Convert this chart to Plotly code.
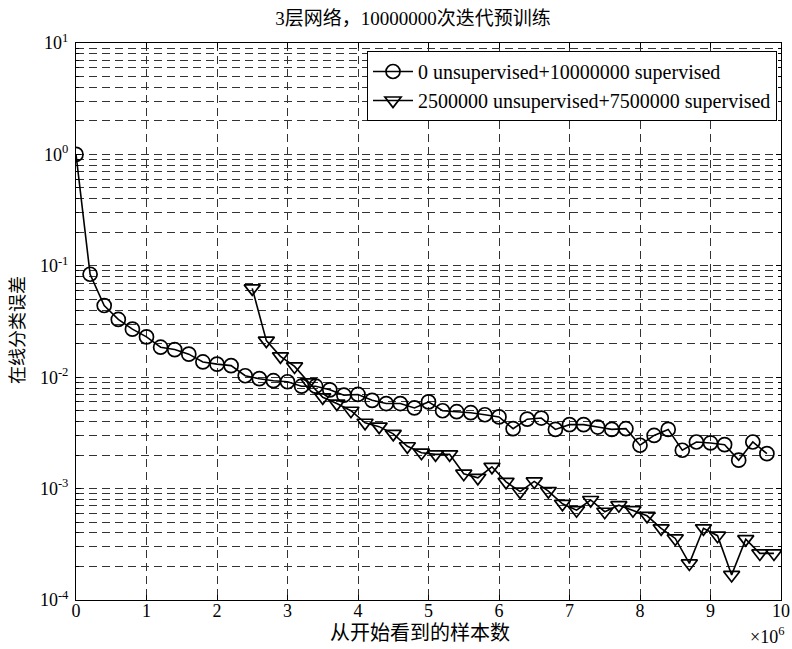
import plotly.graph_objects as go

# ---- data (x in units of 1e6 samples) ----
x_circle = [round(0.2 * i, 1) for i in range(50)]
y_circle = [1.0, 0.084, 0.044, 0.033, 0.027, 0.023, 0.0186, 0.0177, 0.0161, 0.0137,
            0.0131, 0.0127, 0.0103, 0.0097, 0.0093, 0.0091, 0.0083, 0.0083, 0.0077, 0.0069,
            0.0070, 0.0062, 0.0058, 0.0058, 0.0053, 0.0060, 0.0050, 0.0049, 0.0048, 0.0046,
            0.0044, 0.00345, 0.0042, 0.0043, 0.0034, 0.00375, 0.00375, 0.00357, 0.0034, 0.00345,
            0.00245, 0.0030, 0.0034, 0.00221, 0.00262, 0.00257, 0.00248, 0.0018, 0.00262, 0.00206]

x_tri = [round(2.5 + 0.2 * i, 1) for i in range(38)]
y_tri = [0.0627, 0.0213, 0.0154, 0.0125, 0.0090, 0.0066, 0.0058, 0.0050, 0.0039, 0.0036,
         0.0031, 0.0024, 0.0021, 0.00203, 0.00203, 0.00136, 0.00125, 0.00157, 0.00115, 0.00094,
         0.00116, 0.00095, 0.00073, 0.00064, 0.00079, 0.00062, 0.00071, 0.00064, 0.00057, 0.00044,
         0.000357, 0.000213, 0.00044, 0.000378, 0.000168, 0.000352, 0.000262, 0.000262]

series_names = ["0 unsupervised+10000000 supervised",
                "2500000 unsupervised+7500000 supervised"]

x_ticks = list(range(0, 11))
y_exps = [-4, -3, -2, -1, 0, 1]
y_tickvals = [10.0 ** e for e in y_exps]
y_ticktext = ["10<sup>%d</sup>" % e for e in y_exps]
y_minor = [m * 10.0 ** e for e in y_exps[:-1] for m in range(2, 10)]

title_text = "3层网络，10000000次迭代预训练"
xlabel = "从开始看到的样本数"
ylabel = "在线分类误差"
x_scale_text = "×10<sup>6</sup>"

serif = "Liberation Serif, Times New Roman, Noto Sans CJK SC, serif"
grid_dash = "8px,5px"
grid_col = "#333333"

W, H = 792, 649
ML, MR, MT, MB = 76, 11, 43, 49
pw, ph = W - ML - MR, H - MT - MB

fig = go.Figure()
fig.add_trace(go.Scatter(
    x=x_circle, y=y_circle, mode="lines+markers", name=series_names[0],
    line=dict(color="black", width=1.6),
    marker=dict(symbol="circle-open", size=14, color="black", line=dict(width=1.7, color="black"))))
fig.add_trace(go.Scatter(
    x=x_tri, y=y_tri, mode="lines+markers", name=series_names[1],
    line=dict(color="black", width=1.6),
    marker=dict(symbol="triangle-down-open", size=14, color="black", line=dict(width=1.7, color="black"))))

fig.update_layout(
    width=W, height=H,
    margin=dict(l=ML, r=MR, t=MT, b=MB),
    paper_bgcolor="white", plot_bgcolor="white",
    font=dict(family=serif, size=18, color="black"),
    title=dict(text=title_text, x=413 / W, xanchor="center", xref="container",
               y=1 - 18 / H, yanchor="middle", yref="container",
               font=dict(family=serif, size=19, color="black")),
    showlegend=True,
    legend=dict(x=1 - 4 / pw, xanchor="right", y=1 - 8 / ph, yanchor="top",
                bgcolor="white", bordercolor="black", borderwidth=1,
                font=dict(family=serif, size=20, color="black"),
                tracegroupgap=0, itemwidth=40),
)

fig.update_xaxes(
    range=[0, 10], tickvals=x_ticks, ticktext=[str(v) for v in x_ticks],
    showline=True, linecolor="black", linewidth=1, mirror="ticks",
    ticks="inside", ticklen=5, tickcolor="black",
    showgrid=True, gridcolor=grid_col, gridwidth=1, griddash=grid_dash,
    zeroline=False, tickfont=dict(family=serif, size=18),
    ticklabelstandoff=-6, automargin=False,
)
fig.update_yaxes(
    type="log", range=[-4, 1], tickvals=y_tickvals, ticktext=y_ticktext,
    showline=True, linecolor="black", linewidth=1, mirror="ticks",
    ticks="inside", ticklen=5, tickcolor="black",
    showgrid=True, gridcolor=grid_col, gridwidth=1, griddash=grid_dash,
    zeroline=False, tickfont=dict(family=serif, size=18),
    ticklabelstandoff=3, automargin=False,
    minor=dict(tickvals=y_minor, ticks="inside", ticklen=3, tickcolor="black",
               showgrid=True, gridcolor=grid_col, gridwidth=1, griddash=grid_dash),
)

# axis titles and the x-scale factor
fig.add_annotation(text=xlabel, xref="paper", yref="paper",
                   x=(420 - ML) / pw, y=-(633 - (MT + ph)) / ph,
                   xanchor="center", yanchor="middle", showarrow=False,
                   font=dict(family=serif, size=20, color="black"))
fig.add_annotation(text=ylabel, xref="paper", yref="paper",
                   x=-(ML - 18) / pw, y=1 - (330 - MT) / ph, textangle=-90,
                   xanchor="center", yanchor="middle", showarrow=False,
                   font=dict(family=serif, size=18, color="black"))
fig.add_annotation(text=x_scale_text, xref="paper", yref="paper",
                   x=1 + (786 - (ML + pw)) / pw, y=-(635 - (MT + ph)) / ph,
                   xanchor="right", yanchor="middle", showarrow=False,
                   font=dict(family=serif, size=18, color="black"))

# remove the browser's default page margin so the figure starts at the window corner
fig.write_html("out.html", config={"displayModeBar": False},
               post_script="document.body.style.margin='0';")
